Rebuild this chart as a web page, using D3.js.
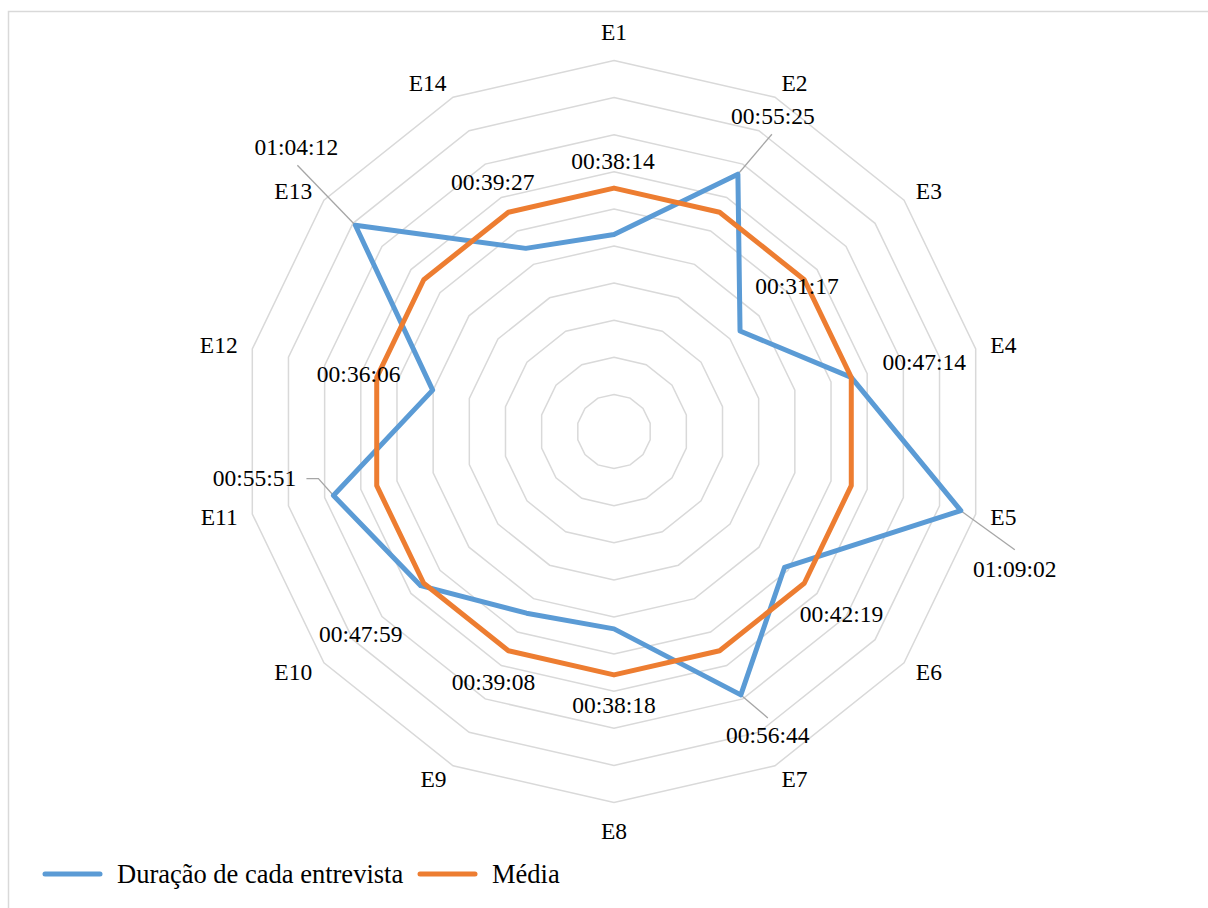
<!DOCTYPE html>
<html>
<head>
<meta charset="utf-8">
<script src="https://cdn.jsdelivr.net/npm/d3@7"></script>
<style>
  html, body { margin: 0; padding: 0; background: #fff; }
  svg { display: block; }
  text { font-family: "Liberation Serif", "Times New Roman", serif; fill: #000; }
</style>
</head>
<body>
<svg id="chart" width="1208" height="908"></svg>
<script>
// ---------- data ----------
const categories = ["E1","E2","E3","E4","E5","E6","E7","E8","E9","E10","E11","E12","E13","E14"];
const duracao = ["00:38:14","00:55:25","00:31:17","00:47:14","01:09:02","00:42:19","00:56:44",
                 "00:38:18","00:39:08","00:47:59","00:55:51","00:36:06","01:04:12","00:39:27"];
const media = ["00:47:14","00:47:14","00:47:14","00:47:14","00:47:14","00:47:14","00:47:14",
               "00:47:14","00:47:14","00:47:14","00:47:14","00:47:14","00:47:14","00:47:14"];
const seriesNames = ["Duração de cada entrevista", "Média"];
const axisMax = "01:12:00";
const gridCount = 10;

// ---------- layout ----------
const W = 1208, H = 908;
const cx = 614, cy = 431.5, R = 371;
const colors = ["#5b9bd5", "#ed7d31"];
const labelFont = 23.5, legendFont = 26.5;
// data-label offsets (label centre x, baseline y) relative to the point
const labelOffsets = [[-1,-65],[35,-50],[57,-37],[73,-7],[54,66],[57,55],[27,48],
                      [0,84],[-33,77],[-60,56],[-79,-10],[-74,-8],[-59,-70],[-33,-58]];
// leader lines (relative to point), null when none
const leaders = [null, [[34,-40]], null, null, [[54,39]], null, [[27,23]],
                 null, null, null, [[-15,-17],[-27,-17]], null, [[-58,-60]], null];

const toMin = s => { const [h,m,sec] = s.split(":").map(Number); return h*60 + m + sec/60; };

const svg = d3.select("#chart");

// outer chart border
svg.append("rect").attr("x", 8.5).attr("y", 11.5).attr("width", W + 10).attr("height", H + 10)
  .attr("fill", "none").attr("stroke", "#d9d9d9").attr("stroke-width", 1.5);

const r = d3.scaleLinear().domain([0, toMin(axisMax)]).range([0, R]);
const angle = d3.scalePoint().domain(categories).range([0, 2*Math.PI * (categories.length-1)/categories.length]);

const pt = (cat, v) => {
  const a = angle(cat), rr = r(v);
  return [cx + rr*Math.sin(a), cy - rr*Math.cos(a)];
};

// grid
const gridVals = d3.range(1, gridCount+1).map(i => toMin(axisMax) * i / gridCount);
const lineGen = d3.line().curve(d3.curveLinearClosed);
svg.append("g").selectAll("path").data(gridVals).join("path")
  .attr("d", v => lineGen(categories.map(c => pt(c, v))))
  .attr("fill", "none").attr("stroke", "#d9d9d9").attr("stroke-width", 1.5);

// category labels: inner edge of the label box sits at a fixed radius outside the grid
const catR = R + 15, halfH = 13.5;
svg.append("g").selectAll("text").data(categories).join("text")
  .each(function(c) {
    const a = angle(c), s = Math.sin(a), co = Math.cos(a);
    const ax = cx + catR*s, ay = cy - catR*co;
    let anchor = "middle", y = ay;
    if (s > 0.1) anchor = "start";
    else if (s < -0.1) anchor = "end";
    else y = ay - Math.sign(co) * halfH;
    d3.select(this).attr("x", ax).attr("y", y).attr("text-anchor", anchor);
  })
  .attr("dy", "0.33em")
  .attr("font-size", labelFont)
  .text(c => c);

const seriesData = [duracao.map(toMin), media.map(toMin)];

// leader lines
const bluePts = categories.map((c,i) => pt(c, seriesData[0][i]));
svg.append("g").selectAll("path").data(leaders.map((l,i) => l ? {l, i} : null).filter(d => d)).join("path")
  .attr("d", d => d3.line()([bluePts[d.i], ...d.l.map(o => [bluePts[d.i][0]+o[0], bluePts[d.i][1]+o[1]])]))
  .attr("fill", "none").attr("stroke", "#a6a6a6").attr("stroke-width", 1.3);

// series
seriesData.forEach((vals, s) => {
  svg.append("path")
    .attr("d", lineGen(categories.map((c,i) => pt(c, vals[i]))))
    .attr("fill", "none").attr("stroke", colors[s]).attr("stroke-width", 5)
    .attr("stroke-linejoin", "round");
});

// data labels (first series)
svg.append("g").selectAll("text").data(duracao).join("text")
  .attr("x", (d,i) => bluePts[i][0] + labelOffsets[i][0])
  .attr("y", (d,i) => bluePts[i][1] + labelOffsets[i][1])
  .attr("text-anchor", "middle")
  .attr("font-size", labelFont)
  .text(d => d);

// legend
const legendX = [45, 420];
const lg = svg.append("g");
seriesNames.forEach((n, i) => {
  lg.append("line").attr("x1", legendX[i]).attr("x2", legendX[i] + 55)
    .attr("y1", 874).attr("y2", 874)
    .attr("stroke", colors[i]).attr("stroke-width", 5).attr("stroke-linecap", "round");
  lg.append("text").attr("x", legendX[i] + 72).attr("y", 883)
    .attr("font-size", legendFont).text(n);
});
</script>
</body>
</html>
